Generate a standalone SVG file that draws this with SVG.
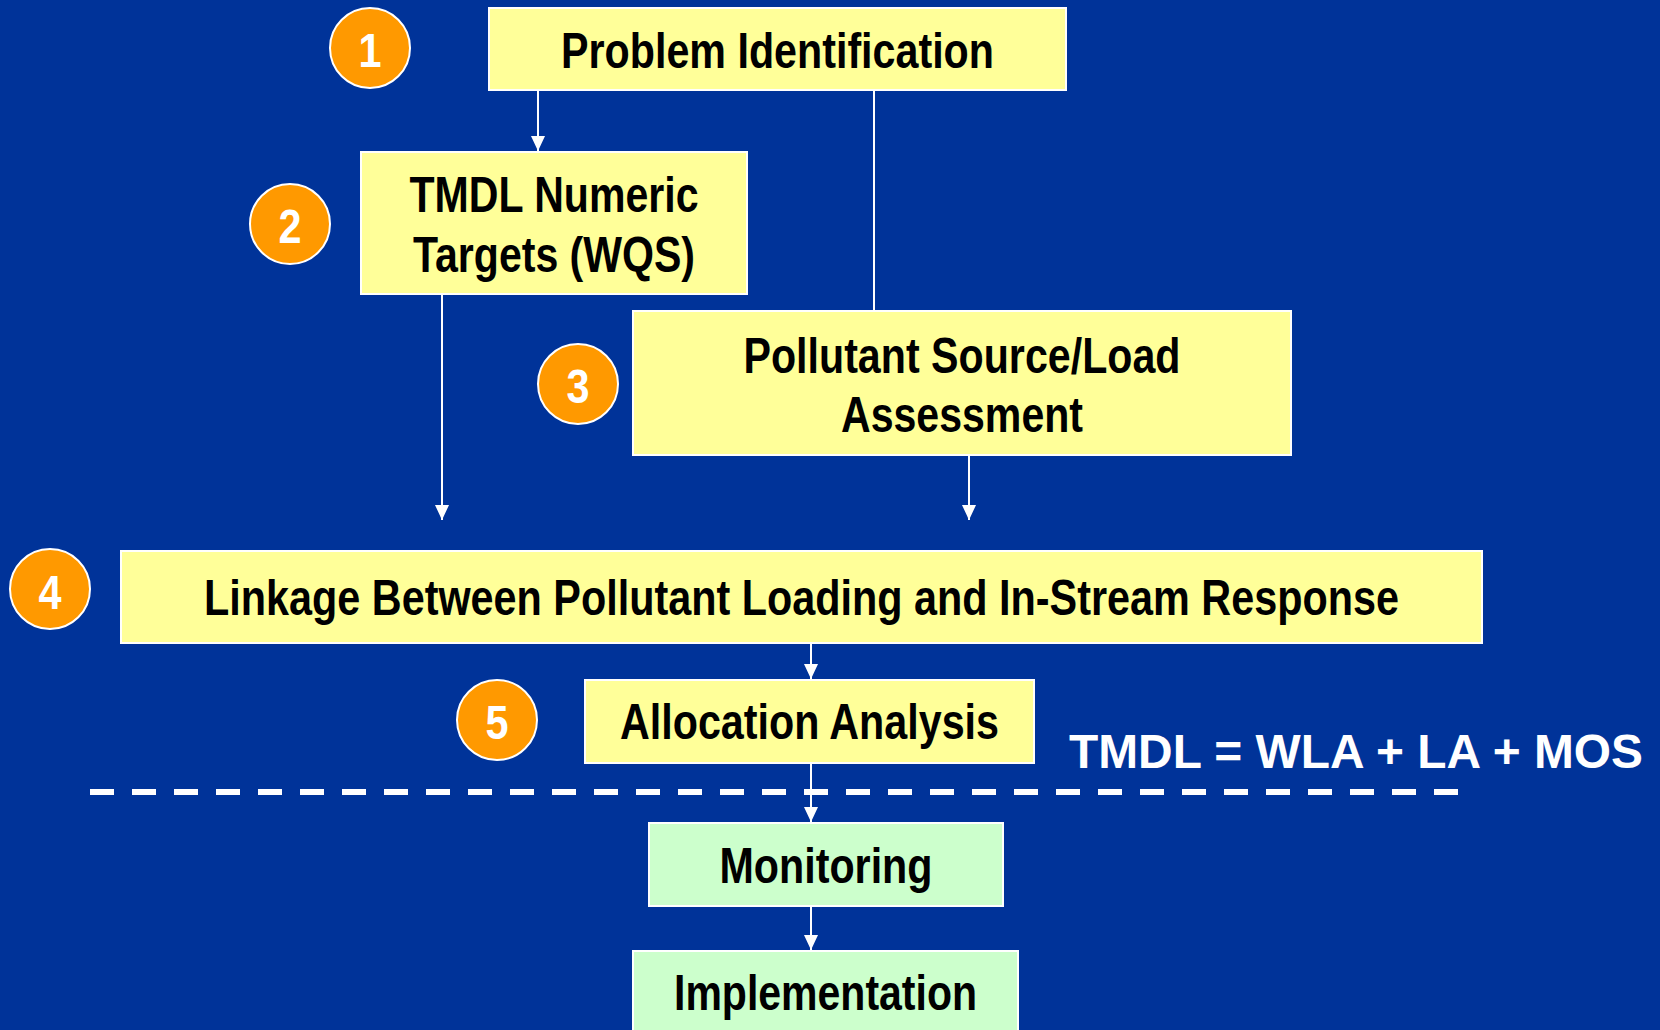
<svg xmlns="http://www.w3.org/2000/svg" width="1660" height="1030" viewBox="0 0 1660 1030">
<style>
.y{fill:#FFFF99;stroke:#FFFFFF;stroke-width:2}
.g{fill:#CCFFCC;stroke:#FFFFFF;stroke-width:2}
.c{fill:#FF9900;stroke:#FFFFFF;stroke-width:2}
.t{font-family:"Liberation Sans",Arial,sans-serif;font-weight:bold;font-size:50px;fill:#000000;text-anchor:middle}
.n{font-family:"Liberation Sans",Arial,sans-serif;font-weight:bold;font-size:49px;fill:#FFFFFF;text-anchor:middle}
.w{font-family:"Liberation Sans",Arial,sans-serif;font-weight:bold;font-size:47.5px;fill:#FFFFFF}
.e{stroke:#FFFFFF;stroke-width:2;fill:none}
</style>
<defs>
<marker id="ah" markerUnits="userSpaceOnUse" markerWidth="16" markerHeight="16" viewBox="0 0 16 16" refX="15" refY="8" orient="auto">
<path d="M0,1 L15,8 L0,15 Z" fill="#FFFFFF"/>
</marker>
</defs>
<rect x="0" y="0" width="1660" height="1030" fill="#003399"/>
<g id="connectors">
<line class="e" x1="538" y1="90" x2="538" y2="151" marker-end="url(#ah)"/>
<line class="e" x1="874" y1="90" x2="874" y2="311"/>
<line class="e" x1="442" y1="294" x2="442" y2="520" marker-end="url(#ah)"/>
<line class="e" x1="969" y1="455" x2="969" y2="520" marker-end="url(#ah)"/>
<line class="e" x1="811" y1="643" x2="811" y2="679" marker-end="url(#ah)"/>
<line class="e" x1="811" y1="763" x2="811" y2="822" marker-end="url(#ah)"/>
<line class="e" x1="811" y1="906" x2="811" y2="950" marker-end="url(#ah)"/>
</g>
<g id="divider">
<line x1="90" y1="792" x2="1460" y2="792" stroke="#FFFFFF" stroke-width="6" stroke-dasharray="24 18"/>
</g>
<g id="node1">
<rect class="y" x="489" y="8" width="577" height="82"/>
<text class="t" x="777.5" y="68" textLength="433" lengthAdjust="spacingAndGlyphs">Problem Identification</text>
</g>
<g id="badge1">
<circle class="c" cx="370" cy="48" r="40"/>
<text class="n" x="370" y="67" textLength="23" lengthAdjust="spacingAndGlyphs">1</text>
</g>
<g id="node2">
<rect class="y" x="361" y="152" width="386" height="142"/>
<text class="t" x="554" y="212" textLength="289" lengthAdjust="spacingAndGlyphs">TMDL Numeric</text>
<text class="t" x="554" y="272" textLength="282" lengthAdjust="spacingAndGlyphs">Targets (WQS)</text>
</g>
<g id="badge2">
<circle class="c" cx="290" cy="224" r="40"/>
<text class="n" x="290" y="243" textLength="23" lengthAdjust="spacingAndGlyphs">2</text>
</g>
<g id="node3">
<rect class="y" x="633" y="311" width="658" height="144"/>
<text class="t" x="962" y="373" textLength="437" lengthAdjust="spacingAndGlyphs">Pollutant Source/Load</text>
<text class="t" x="962" y="432" textLength="242" lengthAdjust="spacingAndGlyphs">Assessment</text>
</g>
<g id="badge3">
<circle class="c" cx="578" cy="384" r="40"/>
<text class="n" x="578" y="403" textLength="23" lengthAdjust="spacingAndGlyphs">3</text>
</g>
<g id="node4">
<rect class="y" x="121" y="551" width="1361" height="92"/>
<text class="t" x="801.5" y="615" textLength="1195" lengthAdjust="spacingAndGlyphs">Linkage Between Pollutant Loading and In-Stream Response</text>
</g>
<g id="badge4">
<circle class="c" cx="50" cy="589" r="40"/>
<text class="n" x="50" y="609" textLength="23" lengthAdjust="spacingAndGlyphs">4</text>
</g>
<g id="node5">
<rect class="y" x="585" y="680" width="449" height="83"/>
<text class="t" x="809.5" y="739" textLength="379" lengthAdjust="spacingAndGlyphs">Allocation Analysis</text>
</g>
<g id="badge5">
<circle class="c" cx="497" cy="720" r="40"/>
<text class="n" x="497" y="739" textLength="23" lengthAdjust="spacingAndGlyphs">5</text>
</g>
<g id="formula">
<text class="w" x="1069" y="768" textLength="574" lengthAdjust="spacingAndGlyphs">TMDL = WLA + LA + MOS</text>
</g>
<g id="node6">
<rect class="g" x="649" y="823" width="354" height="83"/>
<text class="t" x="826" y="883" textLength="213" lengthAdjust="spacingAndGlyphs">Monitoring</text>
</g>
<g id="node7">
<rect class="g" x="633" y="951" width="385" height="100"/>
<text class="t" x="825.5" y="1010" textLength="303" lengthAdjust="spacingAndGlyphs">Implementation</text>
</g>
</svg>
